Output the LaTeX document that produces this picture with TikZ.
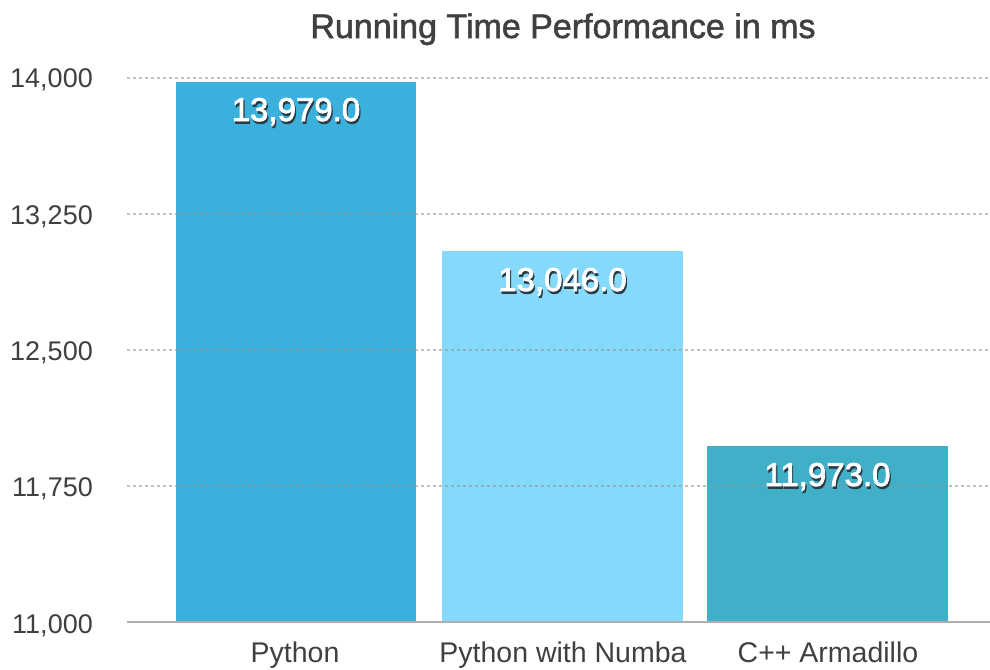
\documentclass[tikz,border=0pt]{standalone}
\usepackage{fontspec}
\setmainfont{Liberation Sans}
\newfontfamily\titlefont{Liberation Sans}[FakeBold=1.6]
\newfontfamily\valfont{Liberation Sans}[FakeBold=2.4]
\definecolor{txt}{RGB}{64,64,64}
\definecolor{gridc}{RGB}{150,150,150}
\definecolor{axisc}{RGB}{175,175,175}
\definecolor{barA}{RGB}{59,176,221}
\definecolor{barB}{RGB}{133,218,252}
\definecolor{barC}{RGB}{64,176,200}
\definecolor{shadowc}{RGB}{40,60,70}
\newcommand{\shadowtext}[1]{\rlap{\kern1.2pt\raisebox{-2.5pt}{\textcolor{shadowc}{#1}}}#1}
\tikzset{
  ylab/.style={anchor=base east, inner sep=0pt, text=txt, font=\fontsize{27}{30}\selectfont},
  catlab/.style={anchor=base, inner sep=0pt, text=txt, font=\fontsize{28.5}{32}\selectfont},
  vallab/.style={anchor=base, inner sep=0pt, text=white, font=\valfont\fontsize{33}{36}\selectfont},
  gridline/.style={draw=gridc, line width=1.2pt, dash pattern=on 3pt off 3pt}
}
\begin{document}
\begin{tikzpicture}[x=1pt,y=-1pt]
\useasboundingbox (0,0) rectangle (990,669);
\fill[white] (0,0) rectangle (990,669);
% title
\node[anchor=base, inner sep=0pt, text=txt, font=\titlefont\fontsize{34}{38}\selectfont] (title) at (563,38) {Running Time Performance in ms};
% bars
\fill[barA] (176,82) rectangle (416,622);
\fill[barB] (442,251) rectangle (683,622);
\fill[barC] (707,446) rectangle (948,622);
% grid lines (drawn over bars, faint)
\foreach \yy in {78,214,350,486}{
  \draw[gridline, opacity=0.6] (127,\yy) -- (990,\yy);
}
% axis
\draw[axisc, line width=1.5pt] (127,622) -- (990,622);
% y labels
\node[ylab] (y14000) at (93,88) {14,000};
\node[ylab] (y13250) at (93,224) {13,250};
\node[ylab] (y12500) at (93,360) {12,500};
\node[ylab] (y11750) at (93,496) {11,750};
\node[ylab] (y11000) at (93,633) {11,000};
% value labels with shadow
\node[vallab] (vPy) at (296,121) {\shadowtext{13,979.0}};
\node[vallab] (vNb) at (562.5,291) {\shadowtext{13,046.0}};
\node[vallab] (vCpp) at (827.5,486) {\shadowtext{11,973.0}};
% category labels
\node[catlab] (cPy) at (295,662) {Python};
\node[catlab] (cNb) at (563,662) {Python with Numba};
\node[catlab] (cCpp) at (828,662) {C++ Armadillo};
\end{tikzpicture}
\end{document}
